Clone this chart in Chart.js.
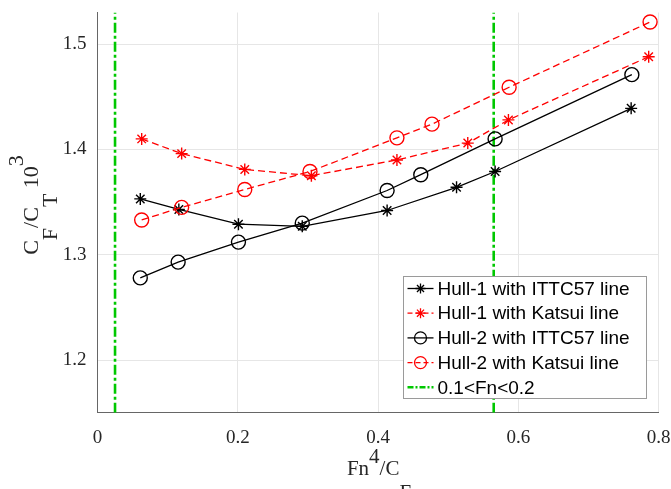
<!DOCTYPE html>
<html>
<head>
<meta charset="utf-8">
<script src="https://cdn.jsdelivr.net/npm/chart.js@4/dist/chart.umd.min.js"></script>
<style>
  html, body { margin: 0; padding: 0; background: #fff; }
</style>
</head>
<body>
<canvas id="myChart" width="671" height="489"></canvas>
<script>
// values
const xTicks = [0, 0.2, 0.4, 0.6, 0.8];
const yTicks = [1.2, 1.3, 1.4, 1.5];

const h1IttcX = [0.061, 0.116, 0.201, 0.292, 0.413, 0.512, 0.567, 0.761];
const h1IttcY = [1.353, 1.343, 1.329, 1.327, 1.342, 1.364, 1.379, 1.439];

const h1KatsuiX = [0.063, 0.120, 0.210, 0.305, 0.427, 0.528, 0.586, 0.786];
const h1KatsuiY = [1.410, 1.396, 1.381, 1.375, 1.390, 1.406, 1.428, 1.488];

const h2IttcX = [0.061, 0.115, 0.201, 0.292, 0.413, 0.461, 0.567, 0.762];
const h2IttcY = [1.278, 1.293, 1.312, 1.330, 1.361, 1.376, 1.410, 1.471];

const h2KatsuiX = [0.063, 0.120, 0.210, 0.303, 0.427, 0.477, 0.587, 0.788];
const h2KatsuiY = [1.333, 1.345, 1.362, 1.379, 1.411, 1.424, 1.459, 1.521];

const fnLimits = [0.025, 0.565];   // Fn = 0.1 and Fn = 0.2
const yMin = 1.15, yMax = 1.53;

const pts = (xs, ys) => xs.map((x, i) => ({ x, y: ys[i] }));

const limitPts = [];
fnLimits.forEach((x, i) => {
  if (i > 0) limitPts.push({ x: (x + fnLimits[i - 1]) / 2, y: null });
  limitPts.push({ x, y: yMin }, { x, y: yMax });
});

const RED = '#ff0000';
const GREEN = '#00c800';

const datasets = [
  {
    label: 'Hull-1 with ITTC57 line',
    data: pts(h1IttcX, h1IttcY),
    borderColor: '#000', pointStyle: 'star', pointRadius: 6,
    borderDash: [], order: 3,
  },
  {
    label: 'Hull-1 with Katsui line',
    data: pts(h1KatsuiX, h1KatsuiY),
    borderColor: RED, pointStyle: 'star', pointRadius: 6,
    borderDash: [7, 4], order: 2,
  },
  {
    label: 'Hull-2 with ITTC57 line',
    data: pts(h2IttcX, h2IttcY),
    borderColor: '#000', pointStyle: 'circle', pointRadius: 7,
    borderDash: [], order: 1,
  },
  {
    label: 'Hull-2 with Katsui line',
    data: pts(h2KatsuiX, h2KatsuiY),
    borderColor: RED, pointStyle: 'circle', pointRadius: 7,
    borderDash: [7, 4], order: 0,
  },
  {
    label: '0.1<Fn<0.2',
    data: limitPts,
    borderColor: GREEN, borderWidth: 2.6, pointRadius: 0,
    borderDash: [10, 3, 3, 3], spanGaps: false, order: 10,
  },
];

datasets.forEach(d => {
  d.borderWidth = d.borderWidth || 1.3;
  d.pointBorderColor = d.borderColor;
  d.pointBackgroundColor = 'rgba(0,0,0,0)';
  d.pointBorderWidth = 1.4;
  d.fill = false;
  d.tension = 0;
});

function drawMark(ctx, style, x, y, r) {
  ctx.beginPath();
  if (style === 'circle') {
    ctx.arc(x, y, r, 0, Math.PI * 2);
  } else if (style === 'star') {
    for (let a = 0; a < 4; a++) {
      const t = a * Math.PI / 4;
      ctx.moveTo(x + r * Math.cos(t), y + r * Math.sin(t));
      ctx.lineTo(x - r * Math.cos(t), y - r * Math.sin(t));
    }
  }
  ctx.stroke();
}

// text with sub/superscripts: parts = [[text, baseline shift], ...]
function drawParts(ctx, parts, cx, base) {
  const total = parts.reduce((s, p) => s + ctx.measureText(p[0]).width, 0);
  let x = cx - total / 2;
  parts.forEach(([t, dy]) => {
    ctx.fillText(t, x, base + dy);
    x += ctx.measureText(t).width;
  });
}

const boxLegend = {
  id: 'boxLegend',
  afterDraw(chart) {
    const ctx = chart.ctx;
    const left = 403.5, top = 276.5, w = 243, h = 122, row = 24.7;
    ctx.save();
    ctx.fillStyle = '#fff';
    ctx.fillRect(left, top, w, h);
    ctx.strokeStyle = '#9a9a9a';
    ctx.lineWidth = 1;
    ctx.strokeRect(left, top, w, h);
    ctx.font = '19px "Liberation Sans", Arial, sans-serif';
    ctx.textBaseline = 'middle';
    chart.data.datasets.forEach((d, i) => {
      const y = top + 12 + i * row;
      ctx.strokeStyle = d.borderColor;
      ctx.lineWidth = d.borderWidth;
      ctx.setLineDash(d.borderDash.length === 4 ? [6, 2, 2, 2] : d.borderDash.length ? [5, 3] : []);
      ctx.beginPath();
      ctx.moveTo(left + 4, y);
      ctx.lineTo(left + 30, y);
      ctx.stroke();
      ctx.setLineDash([]);
      ctx.lineWidth = 1.3;
      if (d.pointRadius) drawMark(ctx, d.pointStyle, left + 17, y, d.pointStyle === 'circle' ? 6 : 5);
      ctx.fillStyle = '#000';
      ctx.fillText(d.label, left + 34, y + 1);
    });
    ctx.restore();
  }
};

const axisTitles = {
  id: 'axisTitles',
  afterDraw(chart) {
    const ctx = chart.ctx;
    ctx.save();
    ctx.fillStyle = '#262626';
    ctx.font = '21px "Liberation Serif", "Times New Roman", serif';
    ctx.textBaseline = 'alphabetic';
    drawParts(ctx, [['Fn', 0], ['4', -12], ['/C', 0], ['F', 24]], 379, 475);
    ctx.font = '22px "Liberation Serif", "Times New Roman", serif';
    ctx.translate(38, 205);
    ctx.rotate(-Math.PI / 2);
    drawParts(ctx, [['C', 0], ['F', 19], ['/C', 0], ['T', 19], [' 10', 0], ['3', -15]], 0, 0);
    ctx.restore();
  }
};

const tickFont = { family: '"Liberation Serif", "Times New Roman", serif', size: 19 };

const config = {
  type: 'line',
  data: { datasets },
  options: {
    responsive: false,
    animation: false,
    layout: { padding: { top: 12.5, right: 12.5, left: 0, bottom: 0 } },
    plugins: {
      legend: { display: false },
      tooltip: { enabled: false },
    },
    scales: {
      x: {
        type: 'linear',
        min: 0, max: 0.8,
        afterBuildTicks: s => { s.ticks = xTicks.map(v => ({ value: v })); },
        afterFit: s => { s.height = 76.3; s.paddingLeft = 0; s.paddingRight = 0; },
        ticks: {
          font: tickFont, color: '#262626', padding: 14,
          maxRotation: 0,
          callback: v => String(v),
        },
        grid: { color: '#e6e6e6', drawTicks: false, lineWidth: 1 },
        border: { color: '#666', width: 1 },
      },
      y: {
        type: 'linear',
        min: yMin, max: yMax,
        afterBuildTicks: s => { s.ticks = yTicks.map(v => ({ value: v })); },
        afterFit: s => { s.width = 97.5; s.paddingTop = 0; s.paddingBottom = 0; },
        ticks: {
          font: tickFont, color: '#262626', padding: 11,
          callback: v => v.toFixed(1),
        },
        grid: { color: '#e6e6e6', drawTicks: false, lineWidth: 1 },
        border: { color: '#666', width: 1 },
      },
    },
  },
  plugins: [boxLegend, axisTitles],
};

const ctx = document.getElementById('myChart');
const chart = new Chart(ctx, config);
</script>
</body>
</html>
